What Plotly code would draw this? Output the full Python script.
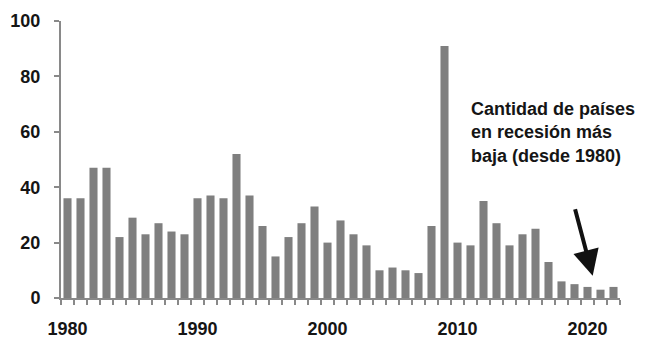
import plotly.graph_objects as go

# Number of countries in recession per year
years = list(range(1980, 2023))
countries = [36, 36, 47, 47, 22, 29, 23, 27, 24, 23,
             36, 37, 36, 52, 37, 26, 15, 22, 27, 33,
             20, 28, 23, 19, 10, 11, 10, 9, 26, 91,
             20, 19, 35, 27, 19, 23, 25, 13, 6, 5,
             4, 3, 4]

tick_years = [1980, 1990, 2000, 2010, 2020]
y_ticks = [0, 20, 40, 60, 80, 100]

note = "Cantidad de países<br>en recesión más<br>baja (desde 1980)"

axis_grey = "#898989"
text_col = "#151515"
font_main = "Liberation Sans, Arial, sans-serif"

fig = go.Figure(
    go.Bar(x=years, y=countries, marker=dict(color="#7f7f7f", line=dict(width=0)))
)

fig.update_layout(
    width=654,
    height=338,
    margin=dict(l=61, r=34, t=21, b=40),
    plot_bgcolor="white",
    paper_bgcolor="white",
    bargap=0.38,
    showlegend=False,
    font=dict(family=font_main, color=text_col),
)

fig.update_xaxes(
    range=[1979.5, 2022.5],
    tickvals=tick_years,
    ticktext=[str(t) for t in tick_years],
    ticks="",
    ticklabelstandoff=13,
    tickfont=dict(size=18, family=font_main, color=text_col, weight="bold"),
    showline=True,
    linecolor=axis_grey,
    linewidth=2,
    showgrid=False,
    zeroline=False,
    automargin=False,
    minor=dict(tick0=1979.5, dtick=1, ticks="outside", ticklen=5,
               tickcolor=axis_grey, tickwidth=2, showgrid=False),
)

fig.update_yaxes(
    range=[0, 100],
    tickvals=y_ticks,
    ticks="outside",
    ticklen=5,
    tickwidth=2,
    tickcolor=axis_grey,
    ticklabelstandoff=10,
    tickfont=dict(size=18, family=font_main, color=text_col, weight="bold"),
    showline=True,
    linecolor=axis_grey,
    linewidth=2,
    showgrid=False,
    zeroline=False,
    automargin=False,
)

# Note text
fig.add_annotation(
    x=2010.85, y=72.5, xref="x", yref="y",
    text=note, showarrow=False,
    xanchor="left", yanchor="top", align="left",
    font=dict(size=18, family=font_main, color=text_col, weight="bold"),
)

# Arrow pointing at the recent low
fig.add_annotation(
    x=2020.4, y=8.0, xref="x", yref="y",
    ax=-18, ay=-68, text="",
    showarrow=True, arrowhead=2, arrowsize=1.3, arrowwidth=4,
    arrowcolor="#111111",
)

fig.write_html("out.html")
